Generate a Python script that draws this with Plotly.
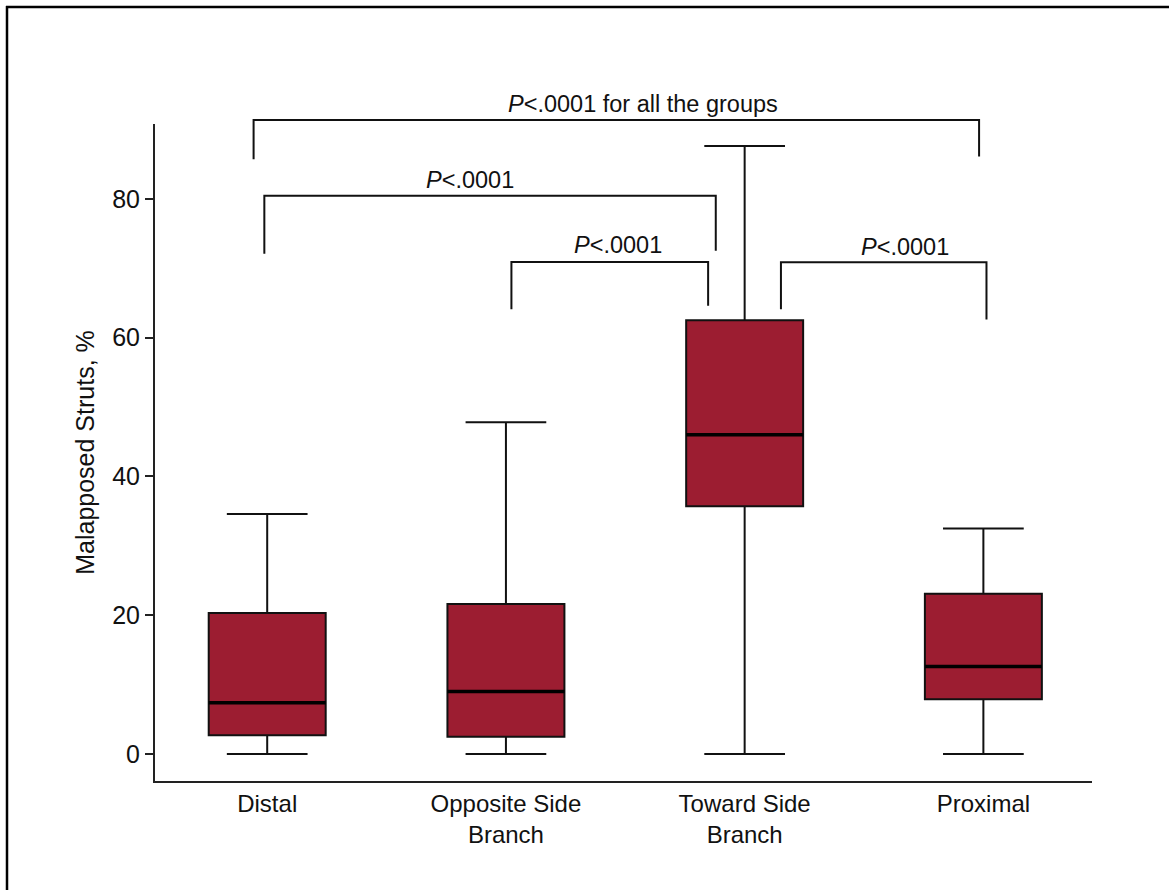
import plotly.graph_objects as go

# ---- data ----
categories = ["Distal", "Opposite Side<br>Branch", "Toward Side<br>Branch", "Proximal"]
lower_whisker = [0.0, 0.0, 0.0, 0.0]
q1_values = [2.7, 2.5, 35.7, 7.9]
median_values = [7.4, 9.0, 46.0, 12.6]
q3_values = [20.3, 21.6, 62.5, 23.1]
upper_whisker = [34.6, 47.8, 87.6, 32.5]

y_tick_values = [0, 20, 40, 60, 80]
y_title = "Malapposed Struts, %"

p_labels = [
    "<i>P</i>&lt;.0001 for all the groups",
    "<i>P</i>&lt;.0001",
    "<i>P</i>&lt;.0001",
    "<i>P</i>&lt;.0001",
]

# ---- layout constants ----
X_MIN, X_MAX = -0.47, 3.455
Y_MIN, Y_MAX = -3.89, 90.78
BOX_W = 0.49
FILL = "#9c1d31"
LINE = "#111111"
AXIS = "#222222"
TXT = "#111111"
FONT = "Liberation Sans, Arial, Helvetica, sans-serif"

x_pos = list(range(len(categories)))

fig = go.Figure()
fig.add_trace(go.Box(
    x=x_pos,
    lowerfence=lower_whisker,
    q1=q1_values,
    median=median_values,
    q3=q3_values,
    upperfence=upper_whisker,
    width=BOX_W,
    whiskerwidth=0.69,
    fillcolor=FILL,
    line=dict(color=LINE, width=2),
    boxpoints=False,
    hoverinfo="skip",
    showlegend=False,
))


def px(v):
    return (v - X_MIN) / (X_MAX - X_MIN)


def py(v):
    return (v - Y_MIN) / (Y_MAX - Y_MIN)


shapes = []
# thicker median lines
for i, m in enumerate(median_values):
    shapes.append(dict(type="line", xref="x", yref="y",
                       x0=i - BOX_W / 2, x1=i + BOX_W / 2, y0=m, y1=m,
                       line=dict(color="#000000", width=3.5), layer="above"))

# significance brackets: (x left, x right, bar level, left drop, right drop, label x, label y)
bracket_geom = [
    (-0.057, 2.982, 91.35, 85.7, 86.1, 1.573, 93.7),
    (-0.012, 1.879, 80.45, 72.1, 72.5, 0.850, 82.75),
    (1.023, 1.847, 70.9, 64.1, 64.6, 1.470, 73.3),
    (2.152, 3.013, 70.85, 64.1, 62.6, 2.671, 73.1),
]
annotations = []
for (xl, xr, yb, yl, yr, lx, ly), lab in zip(bracket_geom, p_labels):
    shapes.append(dict(
        type="path", xref="paper", yref="paper",
        path=f"M {px(xl)} {py(yl)} L {px(xl)} {py(yb)} L {px(xr)} {py(yb)} L {px(xr)} {py(yr)}",
        line=dict(color=LINE, width=2),
    ))
    annotations.append(dict(
        x=px(lx), y=py(ly), xref="paper", yref="paper", text=lab, showarrow=False,
        xanchor="center", yanchor="middle",
        font=dict(family=FONT, size=23.5, color=TXT),
    ))

# frame lines (top and left edges of the figure)
shapes.append(dict(type="line", xref="paper", yref="paper",
                   x0=(6 - 155) / 937, x1=(1169 - 155) / 937,
                   y0=(781 - 7) / 657, y1=(781 - 7) / 657,
                   line=dict(color="#000000", width=2.5)))
shapes.append(dict(type="line", xref="paper", yref="paper",
                   x0=(7 - 155) / 937, x1=(7 - 155) / 937,
                   y0=(781 - 6) / 657, y1=(781 - 890) / 657,
                   line=dict(color="#000000", width=2.5)))

fig.update_layout(
    width=1169, height=890,
    margin=dict(l=155, r=77, t=124, b=109),
    paper_bgcolor="white", plot_bgcolor="white",
    font=dict(family=FONT, size=24, color=TXT),
    shapes=shapes,
    annotations=annotations,
    showlegend=False,
    xaxis=dict(
        range=[X_MIN, X_MAX],
        tickmode="array", tickvals=x_pos, ticktext=categories,
        showline=True, linecolor=AXIS, linewidth=2,
        ticks="", showgrid=False, zeroline=False,
        tickfont=dict(family=FONT, size=24, color=TXT),
    ),
    yaxis=dict(
        range=[Y_MIN, Y_MAX],
        tickmode="array", tickvals=y_tick_values,
        showline=True, linecolor=AXIS, linewidth=2,
        ticks="outside", ticklen=8, tickwidth=2, tickcolor=AXIS,
        showgrid=False, zeroline=False,
        tickfont=dict(family=FONT, size=25, color=TXT),
        title=dict(text=y_title, standoff=10,
                   font=dict(family=FONT, size=25, color=TXT)),
    ),
)

fig.write_html("out.html")
